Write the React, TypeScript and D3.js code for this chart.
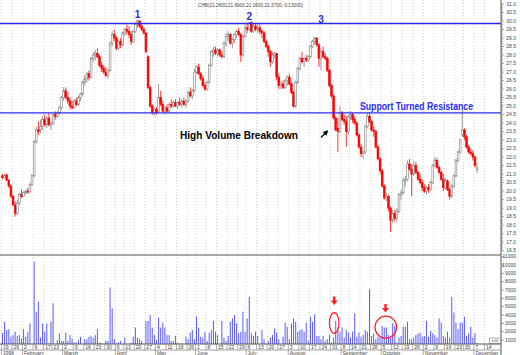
import React from 'react';
import * as d3 from 'd3';

const title = 'CHB(21.2600,21.6900,21.0600,21.3700,-0.13000)';

// sessions start Mon 19 Jan 1998, exchange holidays are skipped
const firstDay = '1998-01-19';
const lastAxisDay = '1998-12-18';
const holidays = ['1998-02-16', '1998-04-10', '1998-05-25', '1998-07-03', '1998-09-07', '1998-11-26'];
const monthNames = ['1998', 'February', 'March', 'April', 'May', 'June', 'July', 'August', 'September', 'October', 'November', 'December'];

const priceLabels = ['31.0', '30.5', '30.0', '29.5', '29.0', '28.5', '28.0', '27.5', '27.0', '26.5', '26.0', '25.5', '25.0', '24.5', '24.0', '23.5', '23.0', '22.5', '22.0', '21.5', '21.0', '20.5', '20.0', '19.5', '19.0', '18.5', '18.0', '17.5', '17.0', '16.5'];
const volumeLabels = ['11000', '10000', '9000', '8000', '7000', '6000', '5000', '4000', '3000', '2000', '1000'];

// resistance (top) and support-turned-resistance line
const levels = [29.85, 24.6];
const peakLabels = [
  { text: '1', day: 64, price: 30.16 },
  { text: '2', day: 117, price: 30.06 },
  { text: '3', day: 151, price: 29.9 },
];

// [open, high, low, close]
const candles = [
  [20.9, 21.0, 20.7, 20.8], [20.8, 21.0, 20.75, 20.95], [20.95, 21.05, 20.6, 20.65], [20.65, 20.7, 20.2, 20.3], [20.3, 20.4, 19.6, 19.7],
  [19.7, 19.8, 19.1, 19.2], [19.2, 19.4, 18.5, 18.7], [18.7, 19.5, 18.6, 19.3], [19.3, 19.9, 19.2, 19.8], [19.8, 20.1, 19.6, 19.7],
  [19.7, 20.0, 19.65, 19.9], [19.9, 20.1, 19.8, 20.0], [20.0, 20.2, 19.85, 19.95], [19.95, 20.5, 19.9, 20.4], [20.4, 21.0, 20.3, 20.9],
  [20.9, 23.0, 20.8, 22.9], [22.9, 23.8, 22.8, 23.6], [23.6, 24.1, 23.3, 23.5], [23.6, 24.2, 23.4, 23.8], [23.8, 24.4, 23.6, 24.2],
  [24.2, 24.5, 23.8, 23.9], [23.9, 24.4, 23.7, 24.3], [24.3, 24.6, 23.8, 23.9], [23.9, 24.1, 23.6, 24.0], [24.0, 24.6, 23.9, 24.5],
  [24.5, 24.7, 24.2, 24.4], [24.4, 24.7, 24.3, 24.6], [24.6, 25.0, 24.5, 24.9], [24.9, 25.6, 24.8, 25.5], [25.5, 26.1, 25.3, 25.9],
  [25.9, 26.1, 25.4, 25.5], [25.5, 25.8, 25.1, 25.3], [25.3, 25.5, 24.8, 25.0], [25.0, 25.3, 24.8, 24.9], [24.9, 25.4, 24.85, 25.3],
  [25.3, 25.5, 25.0, 25.1], [25.1, 25.6, 25.0, 25.5], [25.5, 25.8, 25.3, 25.7], [25.7, 26.5, 25.6, 26.4], [26.4, 26.8, 26.2, 26.6],
  [26.6, 27.0, 26.4, 26.9], [26.9, 27.1, 26.5, 26.7], [26.7, 27.9, 26.6, 27.8], [27.8, 28.2, 27.6, 28.0], [28.0, 28.3, 27.7, 28.1],
  [28.1, 28.4, 27.8, 27.9], [27.9, 28.0, 27.3, 27.4], [27.4, 27.6, 27.0, 27.2], [27.2, 27.4, 26.9, 27.0], [27.0, 27.3, 26.7, 26.8],
  [26.8, 27.2, 26.6, 27.1], [27.1, 28.8, 27.0, 28.7], [28.7, 29.4, 28.5, 29.2], [29.2, 29.5, 28.8, 29.0], [29.0, 29.1, 28.3, 28.4],
  [28.4, 28.9, 28.3, 28.8], [28.8, 29.0, 28.4, 28.6], [28.6, 29.4, 28.5, 29.3], [29.3, 29.6, 29.1, 29.5], [29.5, 29.8, 29.2, 29.4],
  [29.4, 29.7, 29.0, 29.2], [29.2, 29.4, 28.6, 28.8], [28.8, 29.5, 28.7, 29.4], [29.4, 29.9, 29.3, 29.8], [29.8, 30.1, 29.6, 30.0],
  [30.0, 30.05, 29.6, 29.7], [29.7, 29.9, 29.4, 29.5], [29.5, 29.6, 29.2, 29.3], [29.3, 29.3, 28.1, 28.2], [27.9, 28.0, 26.0, 26.1],
  [26.1, 26.2, 24.9, 25.0], [25.0, 25.1, 24.5, 24.6], [24.6, 24.9, 24.4, 24.8], [24.8, 24.95, 24.5, 24.6], [24.7, 26.3, 24.6, 25.5],
  [25.5, 25.9, 25.0, 25.1], [25.1, 25.3, 24.6, 24.7], [24.7, 25.0, 24.5, 24.9], [24.9, 25.1, 24.6, 24.7], [24.7, 25.2, 24.6, 25.1],
  [25.1, 25.4, 24.9, 25.0], [25.0, 25.3, 24.9, 25.2], [25.2, 25.4, 24.95, 25.0], [25.0, 25.3, 24.85, 25.2], [25.2, 25.5, 25.0, 25.1],
  [25.1, 25.4, 24.9, 25.3], [25.3, 25.5, 25.0, 25.1], [25.1, 25.4, 24.9, 25.3], [25.3, 25.9, 25.2, 25.8], [25.8, 26.1, 25.5, 25.6],
  [25.6, 26.0, 25.4, 25.9], [25.9, 27.2, 25.8, 27.0], [27.0, 27.4, 26.9, 27.3], [27.3, 27.5, 26.8, 26.9], [26.9, 27.0, 26.5, 26.6],
  [26.6, 26.8, 26.1, 26.2], [26.2, 26.4, 25.9, 26.0], [26.0, 26.5, 25.9, 26.4], [26.4, 27.5, 26.3, 27.4], [27.4, 28.3, 27.3, 28.2],
  [28.2, 28.5, 27.9, 28.3], [28.3, 28.5, 28.0, 28.1], [28.1, 28.4, 27.9, 28.3], [28.3, 28.4, 27.9, 28.0], [28.0, 28.2, 27.8, 27.9],
  [27.9, 28.8, 27.8, 28.7], [28.7, 29.3, 28.5, 29.1], [29.1, 29.4, 28.8, 29.2], [29.2, 29.3, 28.6, 28.7], [28.7, 29.0, 28.4, 28.9],
  [28.9, 29.3, 28.7, 29.2], [29.2, 29.5, 29.0, 29.4], [29.4, 29.6, 29.1, 29.2], [29.2, 29.3, 27.6, 28.0], [28.0, 29.2, 27.9, 29.1],
  [29.1, 29.8, 29.0, 29.6], [29.6, 29.9, 29.3, 29.5], [29.5, 29.95, 29.4, 29.9], [29.9, 30.0, 29.3, 29.4], [29.4, 29.8, 29.3, 29.7],
  [29.7, 29.9, 29.4, 29.5], [29.5, 29.8, 29.3, 29.6], [29.6, 29.8, 29.2, 29.4], [29.4, 29.5, 29.0, 29.3], [29.3, 29.4, 28.7, 28.8],
  [28.8, 28.9, 28.4, 28.5], [28.5, 28.6, 27.9, 28.2], [28.2, 28.3, 27.3, 27.6], [27.6, 28.2, 27.5, 28.0], [28.0, 28.2, 27.8, 28.1],
  [28.1, 28.1, 26.5, 26.7], [26.7, 26.9, 26.0, 26.2], [26.2, 26.5, 26.0, 26.3], [26.3, 26.5, 26.0, 26.1], [26.1, 26.6, 26.0, 26.5],
  [26.5, 26.8, 26.2, 26.7], [26.7, 26.9, 26.2, 26.3], [26.3, 26.4, 25.7, 25.8], [25.8, 25.9, 24.9, 25.0], [25.0, 26.5, 24.9, 26.4],
  [26.4, 27.3, 26.3, 27.2], [27.2, 27.9, 27.1, 27.8], [27.8, 28.2, 27.5, 27.6], [27.6, 27.9, 27.3, 27.8], [27.8, 28.0, 27.6, 27.7],
  [27.7, 28.0, 27.6, 27.9], [27.9, 28.6, 27.8, 28.5], [28.5, 28.9, 28.4, 28.8], [28.8, 29.05, 28.6, 29.0], [29.0, 29.05, 28.5, 28.6],
  [28.6, 28.7, 27.3, 27.8], [27.8, 28.4, 27.1, 28.2], [28.2, 28.5, 27.8, 27.9], [27.9, 28.1, 27.7, 27.8], [27.8, 27.9, 27.0, 27.1],
  [27.1, 27.2, 26.1, 26.2], [26.2, 26.3, 25.5, 25.6], [25.6, 25.7, 24.2, 24.3], [24.3, 24.4, 23.5, 23.6], [23.7, 24.3, 22.3, 23.5],
  [23.5, 25.0, 23.4, 24.6], [24.6, 24.7, 24.1, 24.2], [24.2, 24.5, 23.9, 24.1], [24.1, 24.4, 22.6, 23.5], [23.5, 24.5, 23.3, 24.4],
  [24.4, 24.7, 24.2, 24.5], [24.5, 24.6, 24.0, 24.2], [24.2, 24.4, 23.9, 24.0], [24.0, 24.1, 23.2, 23.3], [23.3, 23.4, 22.5, 22.6],
  [22.6, 22.8, 22.0, 22.2], [22.2, 22.4, 21.9, 22.3], [22.3, 23.9, 22.2, 23.8], [23.8, 24.6, 23.7, 24.4], [24.4, 24.6, 24.0, 24.1],
  [24.1, 24.2, 23.5, 23.6], [23.6, 23.8, 23.2, 23.5], [23.5, 23.6, 22.5, 22.6], [22.6, 22.7, 21.8, 21.9], [21.9, 22.0, 21.0, 21.2],
  [21.2, 21.3, 20.2, 20.3], [20.3, 20.4, 19.5, 19.6], [19.6, 19.9, 19.4, 19.7], [19.7, 19.8, 18.8, 19.0], [19.0, 19.1, 17.6, 18.3],
  [18.3, 18.9, 18.1, 18.7], [18.7, 18.9, 18.2, 18.4], [18.4, 19.0, 18.2, 18.8], [18.8, 19.9, 18.7, 19.8], [19.8, 20.1, 19.5, 19.9],
  [19.9, 20.8, 19.8, 20.6], [20.6, 20.9, 20.3, 20.7], [20.7, 21.8, 20.6, 21.6], [21.6, 21.9, 21.2, 21.3], [21.3, 21.6, 19.7, 21.0],
  [21.0, 21.8, 20.9, 21.5], [21.5, 21.7, 21.0, 21.1], [21.1, 21.2, 20.6, 20.7], [20.7, 21.0, 20.4, 20.5], [20.5, 20.7, 20.0, 20.2],
  [20.2, 20.4, 19.9, 20.0], [20.0, 20.3, 19.8, 20.2], [20.2, 20.4, 19.9, 20.1], [20.1, 20.6, 20.0, 20.5], [20.5, 21.6, 20.4, 21.5],
  [21.5, 22.0, 21.4, 21.8], [21.8, 21.95, 21.3, 21.4], [21.4, 21.5, 21.0, 21.1], [21.1, 21.2, 20.6, 20.7], [20.7, 21.0, 20.0, 20.2],
  [20.2, 20.8, 20.1, 20.6], [20.6, 20.7, 20.0, 20.1], [20.1, 20.2, 19.5, 19.7], [19.7, 20.4, 19.6, 20.3], [20.3, 21.0, 20.2, 20.9],
  [20.9, 21.9, 20.8, 21.8], [21.8, 22.4, 21.7, 22.3], [22.3, 23.1, 22.2, 23.0], [23.3, 24.8, 23.2, 23.6], [23.6, 23.7, 23.0, 23.2],
  [23.2, 23.3, 22.5, 22.6], [22.6, 22.7, 22.2, 22.3], [22.3, 22.5, 22.1, 22.2], [22.2, 22.4, 21.8, 22.0], [22.0, 22.1, 21.4, 21.5],
  [21.26, 21.69, 21.06, 21.37],
];

// daily volume (x10)
const volumes = [
  1850, 3200, 2200, 2300, 1400, 1600, 2000, 1500, 1600, 1200, 2300, 1400, 2000, 3000, 200, 10400, 4400, 5600, 1300, 3000,
  2000, 3000, 600, 3200, 5400, 300, 1000, 1800, 900, 900, 1900, 900, 1600, 1200, 700, 700, 1000, 1400, 300, 1100,
  1100, 1400, 1500, 1300, 1600, 2300, 700, 600, 400, 900, 900, 7300, 4800, 1100, 600, 700, 900, 400, 1300, 400,
  400, 700, 1400, 2500, 1300, 1100, 900, 400, 3300, 3300, 4000, 2500, 1600, 1000, 3700, 2500, 3100, 2500, 1600, 1600,
  900, 900, 1500, 700, 400, 600, 400, 1400, 1100, 1900, 2200, 1100, 3800, 2500, 1400, 1300, 2000, 900, 1900, 2200,
  3300, 2000, 1600, 400, 3300, 1300, 900, 1500, 3200, 3600, 4000, 3000, 1800, 2000, 4400, 2000, 3600, 6200, 1800, 1500,
  2000, 1500, 400,
  2200, 1100, 300, 900, 1300, 1600, 2400, 1900, 1100, 300, 1400, 3100, 2600, 1100, 3000, 3600, 3200, 2000, 2200, 2300,
  2000, 3100, 900, 3800, 3200, 4100, 1500, 1500, 1100, 1500, 900, 1100, 1600, 700, 1300, 3300, 2500, 2000, 2500, 1300,
  2200, 1900, 1300, 2000, 4200, 1400, 1900, 1400, 1600, 2200, 2000, 7100, 1500, 1800, 1100, 1400, 1300, 2700, 2500, 2500,
  1600, 1300, 3000, 2700, 700, 1300, 1500, 2600, 2600, 3200, 1100, 1100, 1300, 1600, 1800, 1900, 1400, 1500, 3300, 1400,
  2100, 1800, 1600, 1300, 3600, 3100, 1500, 1300, 2000, 1300, 6200, 4300, 3100, 2300, 3100, 3100, 3800, 1500, 1800, 2600,
  1300, 1800, 600,
];

const font = "'Liberation Sans', Arial, sans-serif";
const plotRight = 501;
const panelSplit = 255;
const volBottom = 344;
const dateSplit = 350;

const App = () => {
  const parse = d3.timeParse('%Y-%m-%d');
  const fmt = d3.timeFormat('%Y-%m-%d');
  const skip = new Set(holidays);
  const days: Date[] = [];
  for (let d = parse(firstDay) as Date; d <= (parse(lastAxisDay) as Date); d = d3.timeDay.offset(d, 1)) {
    const wd = d.getDay();
    if (wd === 0 || wd === 6 || skip.has(fmt(d))) continue;
    days.push(d);
  }

  const x = d3.scaleLinear().domain([0, 229]).range([2.5, 485.5]);
  const step = x(1) - x(0);
  const yP = d3.scaleLinear().domain([16.5, 31]).range([250.7, 4]);
  const yV = d3.scaleLinear().domain([0, 11000]).range([348.4, 256.7]);

  // first session of each week
  const weeks = days
    .map((d, i) => ({ d, i }))
    .filter(({ d, i }) => i === 0 || +d3.timeMonday.floor(d) !== +d3.timeMonday.floor(days[i - 1]))
    .map(w => ({ ...w, px: x(w.i) - step / 2 }))
    .filter(w => w.px < plotRight);
  const months = weeks.filter((w, k) => k === 0 || w.d.getMonth() !== weeks[k - 1].d.getMonth());

  const minorPrice = d3.range(165, 311).map(v => v / 10);

  return (
    <svg width={520} height={355} style={{ position: 'absolute', left: 0, top: 0, background: '#fff' }}
      fontFamily={font}>
      <rect width={520} height={355} fill="#fff" />
      <defs>
        <clipPath id="pclip"><rect x={0} y={0} width={plotRight} height={panelSplit} /></clipPath>
        <clipPath id="vclip"><rect x={0} y={panelSplit} width={plotRight} height={volBottom - panelSplit} /></clipPath>
        <marker id="blk" viewBox="0 0 10 10" refX="8" refY="5" markerWidth="4" markerHeight="4" orient="auto">
          <path d="M0,0 L10,5 L0,10 z" fill="#000" />
        </marker>
      </defs>

      {/* weekly dotted grid */}
      {weeks.map(w => (
        <line key={'g' + w.i} x1={w.px} x2={w.px} y1={0} y2={volBottom} stroke="#c8c8c8" strokeWidth={0.8}
          strokeDasharray="1,2" />
      ))}

      {/* candles */}
      <g clipPath="url(#pclip)">
        {candles.map(([o, h, l, c], i) => {
          const up = c >= o;
          const col = up ? '#808080' : '#ff0000';
          const top = yP(Math.max(o, c));
          const bh = Math.max(0.8, Math.abs(yP(o) - yP(c)));
          return (
            <g key={i}>
              <line x1={x(i)} x2={x(i)} y1={yP(h)} y2={yP(l)} stroke={col} strokeWidth={0.8} />
              <rect x={x(i) - 0.9} y={top} width={1.8} height={bh} fill={up ? '#fff' : '#ff0000'} stroke={col}
                strokeWidth={0.6} />
            </g>
          );
        })}
        {levels.map(v => (
          <line key={v} x1={0} x2={plotRight} y1={yP(v)} y2={yP(v)} stroke="#2b2bf0" strokeWidth={1.4} />
        ))}
      </g>

      {peakLabels.map(p => (
        <text key={p.text} x={x(p.day)} y={yP(p.price)} textAnchor="middle" fontSize={10} fontWeight="bold"
          fill="#2b2bd8">{p.text}</text>
      ))}
      <text x={360} y={110} fontSize={10} fontWeight="bold" fill="#2b2bf0" textLength={113}
        lengthAdjust="spacingAndGlyphs">Support Turned Resistance</text>
      <text x={180} y={139} fontSize={10} fontWeight="bold" fill="#000" textLength={118}
        lengthAdjust="spacingAndGlyphs">High Volume Breakdown</text>
      <line x1={321} y1={137.5} x2={327.5} y2={131} stroke="#000" strokeWidth={1.3} markerEnd="url(#blk)" />

      <text x={198} y={6.5} fontSize={5} fill="#444" textLength={105} lengthAdjust="spacingAndGlyphs">{title}</text>

      {/* panel borders */}
      <line x1={0} x2={plotRight} y1={panelSplit} y2={panelSplit} stroke="#555" strokeWidth={1} />
      <line x1={plotRight} x2={plotRight} y1={0} y2={355} stroke="#555" strokeWidth={1} />

      {/* volume */}
      <g clipPath="url(#vclip)">
        {volumes.map((v, i) => (
          <line key={i} x1={x(i)} x2={x(i)} y1={volBottom} y2={yV(v)} stroke="#5a5aff" strokeWidth={1} />
        ))}
      </g>
      <g fill="none" stroke="#ff2020" strokeWidth={1.2}>
        <ellipse cx={334.2} cy={323} rx={4.8} ry={10.3} />
        <ellipse cx={385.8} cy={327.2} rx={10.8} ry={11} />
      </g>
      <g fill="#ff2020">
        <path d="M333,296.5 h2.4 v4 h2.3 l-3.5,4.5 l-3.5,-4.5 h2.3 z" />
        <path d="M384.3,304 h2.4 v4 h2.3 l-3.5,4.5 l-3.5,-4.5 h2.3 z" />
      </g>

      {/* price axis */}
      {minorPrice.map(v => {
        const major = Math.round(v * 10) % 5 === 0;
        return <line key={'m' + v} x1={plotRight} x2={plotRight + (major ? 3 : 1.8)} y1={yP(v)} y2={yP(v)}
          stroke="#666" strokeWidth={0.6} />;
      })}
      {priceLabels.map(s => (
        <text key={s} x={516} y={yP(+s) + 1.7} textAnchor="end" fontSize={5} fill="#444">{s}</text>
      ))}

      {/* volume axis */}
      {volumeLabels.map(s => (
        <g key={s}>
          <line x1={plotRight} x2={plotRight + 3} y1={yV(+s)} y2={yV(+s)} stroke="#666" strokeWidth={0.6} />
          <text x={516} y={yV(+s) + 1.7} textAnchor="end" fontSize={5} fill="#444">{s}</text>
        </g>
      ))}
      <rect x={489.5} y={338} width={11} height={5.5} fill="#fff" stroke="#666" strokeWidth={0.5} />
      <text x={495} y={342.2} textAnchor="middle" fontSize={4.2} fill="#444">x10</text>

      {/* date axis */}
      <line x1={0} x2={plotRight} y1={volBottom} y2={volBottom} stroke="#555" strokeWidth={1} />
      <line x1={0} x2={plotRight} y1={dateSplit} y2={dateSplit} stroke="#777" strokeWidth={0.7} />
      {weeks.map(w => (
        <g key={'w' + w.i}>
          <line x1={w.px} x2={w.px} y1={volBottom} y2={dateSplit} stroke="#777" strokeWidth={0.6} />
          <text x={w.px + 1.5} y={349} fontSize={5} fill="#444">{w.d.getDate()}</text>
        </g>
      ))}
      {months.map(m => (
        <g key={'mo' + m.i}>
          <line x1={m.px} x2={m.px} y1={dateSplit} y2={355} stroke="#777" strokeWidth={0.6} />
          <text x={m.px + 1.5} y={354.8} fontSize={5} fill="#444">{monthNames[m.d.getMonth()]}</text>
        </g>
      ))}
    </svg>
  );
};

export default App;
